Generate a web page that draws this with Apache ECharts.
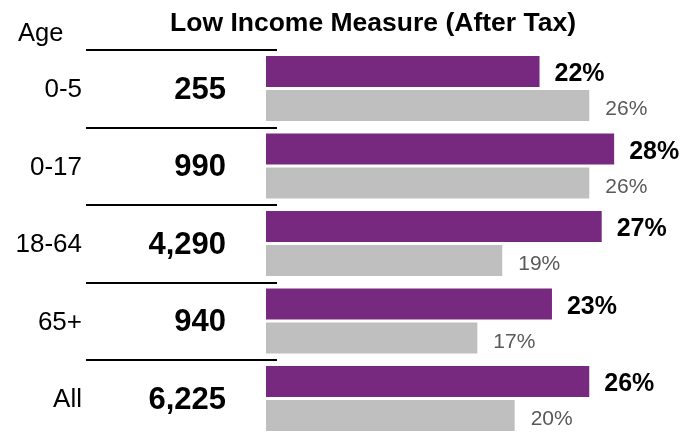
<!DOCTYPE html>
<html>
<head>
<meta charset="utf-8">
<script src="https://cdn.jsdelivr.net/npm/echarts@6/dist/echarts.min.js"></script>
<style>
  html, body { margin: 0; padding: 0; background: #fff; }
  #chart { width: 685px; height: 432px; }
</style>
</head>
<body>
<div id="chart"></div>
<script>
// age groups and counts (after-tax low income)
const ageGroups = ['0-5', '0-17', '18-64', '65+', 'All']
const counts = ['255', '990', '4,290', '940', '6,225']
// purple = local rate, grey = comparison rate
const localRate = [22, 28, 27, 23, 26]
const compareRate = [26, 26, 19, 17, 20]

const FONT = "'Liberation Sans', Arial, sans-serif"
const myChart = echarts.init(document.getElementById('chart'))

const option = {
  animation: false,
  title: [
    {
      text: 'Low Income Measure (After Tax)',
      left: 373,
      top: 10,
      padding: 0,
      textAlign: 'center',
      textStyle: { fontFamily: FONT, fontSize: 26.5, fontWeight: 'bold', color: '#000' }
    },
    {
      text: 'Age',
      left: 18,
      top: 21,
      padding: 0,
      textStyle: { fontFamily: FONT, fontSize: 25.5, fontWeight: 'normal', color: '#000' }
    }
  ],
  grid: {
    left: 266,
    width: 373,
    top: 49.75,
    height: 387.5,
    outerBoundsMode: 'none' // last row runs off the bottom edge
  },
  xAxis: {
    type: 'value',
    min: 0,
    max: 30,
    show: false
  },
  yAxis: {
    type: 'category',
    inverse: true,
    data: ageGroups,
    offset: -11,
    axisLine: { show: false },
    // separator lines sit on the band boundaries
    axisTick: {
      show: true,
      length: 191,
      lineStyle: { color: '#000', width: 2 }
    },
    axisLabel: {
      margin: 51,
      formatter: (val, idx) => '{a|' + val + '}{b|' + counts[idx] + '}',
      rich: {
        a: {
          align: 'right',
          verticalAlign: 'middle',
          padding: [3, 0, 0, 0],
          fontFamily: FONT,
          fontSize: 26,
          color: '#000'
        },
        b: {
          align: 'right',
          verticalAlign: 'middle',
          padding: [3, 0, 0, 0],
          width: 144,
          fontFamily: FONT,
          fontSize: 31,
          fontWeight: 'bold',
          color: '#000'
        }
      }
    }
  },
  series: [
    {
      name: 'Local',
      type: 'bar',
      data: localRate,
      barWidth: 31,
      barGap: '10%',
      itemStyle: { color: '#77297F' },
      label: {
        show: true,
        position: 'right',
        distance: 15,
        offset: [0, 3],
        formatter: '{c}%',
        fontFamily: FONT,
        fontSize: 25,
        fontWeight: 'bold',
        color: '#000'
      }
    },
    {
      name: 'Comparison',
      type: 'bar',
      data: compareRate,
      barWidth: 31,
      itemStyle: { color: '#BFBFBF' },
      label: {
        show: true,
        position: 'right',
        distance: 16,
        offset: [0, 4],
        formatter: '{c}%',
        fontFamily: FONT,
        fontSize: 21,
        color: '#595959'
      }
    }
  ]
}

myChart.setOption(option)
</script>
</body>
</html>
